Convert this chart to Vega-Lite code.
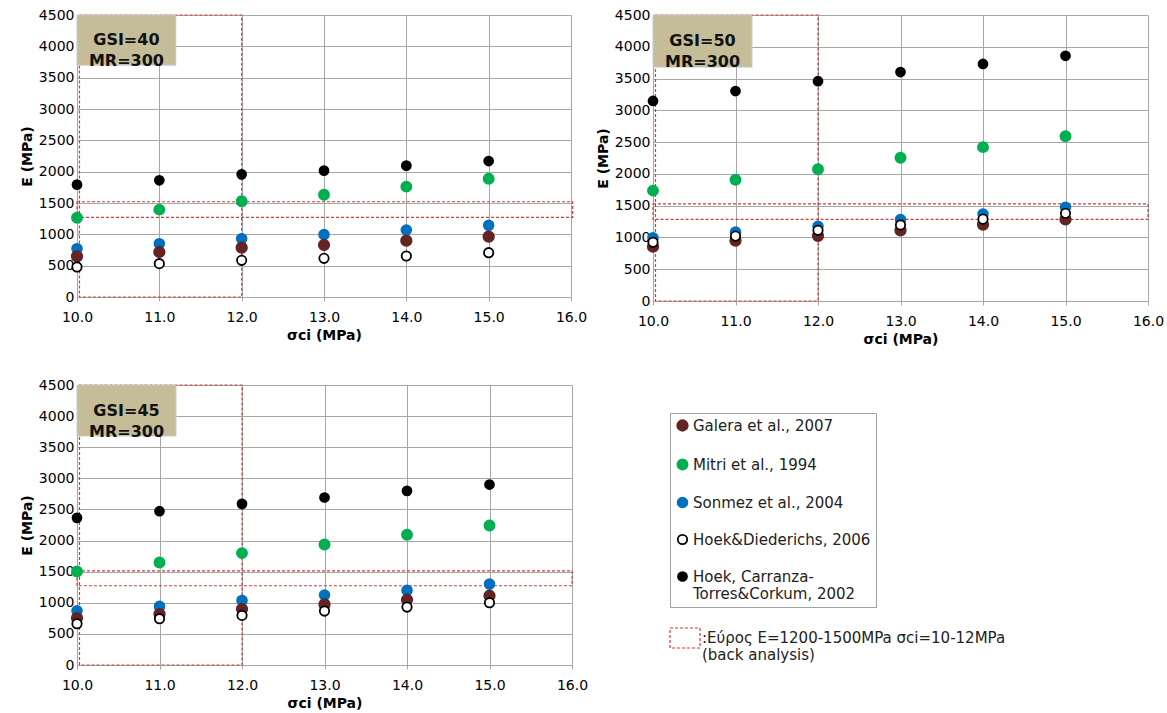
{
  "$schema": "https://vega.github.io/schema/vega-lite/v6.json",
  "background": "white",
  "padding": {"left": 20, "top": 8, "right": 5, "bottom": 5},
  "config": {
    "font": "DejaVu Sans",
    "view": {"stroke": null},
    "axis": {
      "gridColor": "#a6a6a6", "gridWidth": 1, "domainColor": "#a6a6a6", "tickColor": "#a6a6a6",
      "tickSize": 4, "labelFont": "DejaVu Sans", "labelFontSize": 14, "labelColor": "#000000",
      "titleFont": "DejaVu Sans", "titleFontSize": 14, "titleFontWeight": "bold", "titleColor": "#000000",
      "labelPadding": 3, "labelFlush": false, "labelOverlap": false
    },
    "axisX": {"titlePadding": 4, "labelPadding": 9},
    "axisY": {"titlePadding": 4, "ticks": false}
  },
  "resolve": {"legend": {"strokeDash": "independent"}},
  "datasets": {
    "pts": [
      {"panel": "p40", "series": "Hoek, Carranza-Torres&Corkum, 2002", "sigma": 10, "E": 1793},
      {"panel": "p40", "series": "Hoek, Carranza-Torres&Corkum, 2002", "sigma": 11, "E": 1862},
      {"panel": "p40", "series": "Hoek, Carranza-Torres&Corkum, 2002", "sigma": 12, "E": 1957},
      {"panel": "p40", "series": "Hoek, Carranza-Torres&Corkum, 2002", "sigma": 13, "E": 2016},
      {"panel": "p40", "series": "Hoek, Carranza-Torres&Corkum, 2002", "sigma": 14, "E": 2096},
      {"panel": "p40", "series": "Hoek, Carranza-Torres&Corkum, 2002", "sigma": 15, "E": 2170},
      {"panel": "p40", "series": "Mitri et al., 1994", "sigma": 10, "E": 1266},
      {"panel": "p40", "series": "Mitri et al., 1994", "sigma": 11, "E": 1394},
      {"panel": "p40", "series": "Mitri et al., 1994", "sigma": 12, "E": 1527},
      {"panel": "p40", "series": "Mitri et al., 1994", "sigma": 13, "E": 1633},
      {"panel": "p40", "series": "Mitri et al., 1994", "sigma": 14, "E": 1761},
      {"panel": "p40", "series": "Mitri et al., 1994", "sigma": 15, "E": 1888},
      {"panel": "p40", "series": "Sonmez et al., 2004", "sigma": 10, "E": 771},
      {"panel": "p40", "series": "Sonmez et al., 2004", "sigma": 11, "E": 851},
      {"panel": "p40", "series": "Sonmez et al., 2004", "sigma": 12, "E": 931},
      {"panel": "p40", "series": "Sonmez et al., 2004", "sigma": 13, "E": 995},
      {"panel": "p40", "series": "Sonmez et al., 2004", "sigma": 14, "E": 1069},
      {"panel": "p40", "series": "Sonmez et al., 2004", "sigma": 15, "E": 1144},
      {"panel": "p40", "series": "Galera et al., 2007", "sigma": 10, "E": 649},
      {"panel": "p40", "series": "Galera et al., 2007", "sigma": 11, "E": 718},
      {"panel": "p40", "series": "Galera et al., 2007", "sigma": 12, "E": 787},
      {"panel": "p40", "series": "Galera et al., 2007", "sigma": 13, "E": 830},
      {"panel": "p40", "series": "Galera et al., 2007", "sigma": 14, "E": 899},
      {"panel": "p40", "series": "Galera et al., 2007", "sigma": 15, "E": 963},
      {"panel": "p40", "series": "Hoek&Diederichs, 2006", "sigma": 10, "E": 479},
      {"panel": "p40", "series": "Hoek&Diederichs, 2006", "sigma": 11, "E": 532},
      {"panel": "p40", "series": "Hoek&Diederichs, 2006", "sigma": 12, "E": 585},
      {"panel": "p40", "series": "Hoek&Diederichs, 2006", "sigma": 13, "E": 617},
      {"panel": "p40", "series": "Hoek&Diederichs, 2006", "sigma": 14, "E": 654},
      {"panel": "p40", "series": "Hoek&Diederichs, 2006", "sigma": 15, "E": 707},

      {"panel": "p50", "series": "Hoek, Carranza-Torres&Corkum, 2002", "sigma": 10, "E": 3148},
      {"panel": "p50", "series": "Hoek, Carranza-Torres&Corkum, 2002", "sigma": 11, "E": 3303},
      {"panel": "p50", "series": "Hoek, Carranza-Torres&Corkum, 2002", "sigma": 12, "E": 3458},
      {"panel": "p50", "series": "Hoek, Carranza-Torres&Corkum, 2002", "sigma": 13, "E": 3602},
      {"panel": "p50", "series": "Hoek, Carranza-Torres&Corkum, 2002", "sigma": 14, "E": 3730},
      {"panel": "p50", "series": "Hoek, Carranza-Torres&Corkum, 2002", "sigma": 15, "E": 3858},
      {"panel": "p50", "series": "Mitri et al., 1994", "sigma": 10, "E": 1737},
      {"panel": "p50", "series": "Mitri et al., 1994", "sigma": 11, "E": 1908},
      {"panel": "p50", "series": "Mitri et al., 1994", "sigma": 12, "E": 2073},
      {"panel": "p50", "series": "Mitri et al., 1994", "sigma": 13, "E": 2255},
      {"panel": "p50", "series": "Mitri et al., 1994", "sigma": 14, "E": 2421},
      {"panel": "p50", "series": "Mitri et al., 1994", "sigma": 15, "E": 2592},
      {"panel": "p50", "series": "Sonmez et al., 2004", "sigma": 10, "E": 994},
      {"panel": "p50", "series": "Sonmez et al., 2004", "sigma": 11, "E": 1085},
      {"panel": "p50", "series": "Sonmez et al., 2004", "sigma": 12, "E": 1176},
      {"panel": "p50", "series": "Sonmez et al., 2004", "sigma": 13, "E": 1283},
      {"panel": "p50", "series": "Sonmez et al., 2004", "sigma": 14, "E": 1368},
      {"panel": "p50", "series": "Sonmez et al., 2004", "sigma": 15, "E": 1475},
      {"panel": "p50", "series": "Galera et al., 2007", "sigma": 10, "E": 855},
      {"panel": "p50", "series": "Galera et al., 2007", "sigma": 11, "E": 951},
      {"panel": "p50", "series": "Galera et al., 2007", "sigma": 12, "E": 1026},
      {"panel": "p50", "series": "Galera et al., 2007", "sigma": 13, "E": 1112},
      {"panel": "p50", "series": "Galera et al., 2007", "sigma": 14, "E": 1202},
      {"panel": "p50", "series": "Galera et al., 2007", "sigma": 15, "E": 1283},
      {"panel": "p50", "series": "Hoek&Diederichs, 2006", "sigma": 10, "E": 925},
      {"panel": "p50", "series": "Hoek&Diederichs, 2006", "sigma": 11, "E": 1021},
      {"panel": "p50", "series": "Hoek&Diederichs, 2006", "sigma": 12, "E": 1112},
      {"panel": "p50", "series": "Hoek&Diederichs, 2006", "sigma": 13, "E": 1197},
      {"panel": "p50", "series": "Hoek&Diederichs, 2006", "sigma": 14, "E": 1288},
      {"panel": "p50", "series": "Hoek&Diederichs, 2006", "sigma": 15, "E": 1379},

      {"panel": "p45", "series": "Hoek, Carranza-Torres&Corkum, 2002", "sigma": 10, "E": 2365},
      {"panel": "p45", "series": "Hoek, Carranza-Torres&Corkum, 2002", "sigma": 11, "E": 2472},
      {"panel": "p45", "series": "Hoek, Carranza-Torres&Corkum, 2002", "sigma": 12, "E": 2590},
      {"panel": "p45", "series": "Hoek, Carranza-Torres&Corkum, 2002", "sigma": 13, "E": 2692},
      {"panel": "p45", "series": "Hoek, Carranza-Torres&Corkum, 2002", "sigma": 14, "E": 2799},
      {"panel": "p45", "series": "Hoek, Carranza-Torres&Corkum, 2002", "sigma": 15, "E": 2900},
      {"panel": "p45", "series": "Mitri et al., 1994", "sigma": 10, "E": 1504},
      {"panel": "p45", "series": "Mitri et al., 1994", "sigma": 11, "E": 1648},
      {"panel": "p45", "series": "Mitri et al., 1994", "sigma": 12, "E": 1798},
      {"panel": "p45", "series": "Mitri et al., 1994", "sigma": 13, "E": 1937},
      {"panel": "p45", "series": "Mitri et al., 1994", "sigma": 14, "E": 2092},
      {"panel": "p45", "series": "Mitri et al., 1994", "sigma": 15, "E": 2242},
      {"panel": "p45", "series": "Sonmez et al., 2004", "sigma": 10, "E": 872},
      {"panel": "p45", "series": "Sonmez et al., 2004", "sigma": 11, "E": 942},
      {"panel": "p45", "series": "Sonmez et al., 2004", "sigma": 12, "E": 1038},
      {"panel": "p45", "series": "Sonmez et al., 2004", "sigma": 13, "E": 1124},
      {"panel": "p45", "series": "Sonmez et al., 2004", "sigma": 14, "E": 1199},
      {"panel": "p45", "series": "Sonmez et al., 2004", "sigma": 15, "E": 1300},
      {"panel": "p45", "series": "Galera et al., 2007", "sigma": 10, "E": 754},
      {"panel": "p45", "series": "Galera et al., 2007", "sigma": 11, "E": 819},
      {"panel": "p45", "series": "Galera et al., 2007", "sigma": 12, "E": 899},
      {"panel": "p45", "series": "Galera et al., 2007", "sigma": 13, "E": 974},
      {"panel": "p45", "series": "Galera et al., 2007", "sigma": 14, "E": 1049},
      {"panel": "p45", "series": "Galera et al., 2007", "sigma": 15, "E": 1113},
      {"panel": "p45", "series": "Hoek&Diederichs, 2006", "sigma": 10, "E": 663},
      {"panel": "p45", "series": "Hoek&Diederichs, 2006", "sigma": 11, "E": 744},
      {"panel": "p45", "series": "Hoek&Diederichs, 2006", "sigma": 12, "E": 797},
      {"panel": "p45", "series": "Hoek&Diederichs, 2006", "sigma": 13, "E": 867},
      {"panel": "p45", "series": "Hoek&Diederichs, 2006", "sigma": 14, "E": 931},
      {"panel": "p45", "series": "Hoek&Diederichs, 2006", "sigma": 15, "E": 1001}
    ],
    "boxes": [
      {"panel": "p40", "note": "range", "x1": 10.03, "x2": 12, "y1": 0, "y2": 4500},
      {"panel": "p40", "note": "range", "x1": 10, "x2": 16.02, "y1": 1270, "y2": 1520},
      {"panel": "p50", "note": "range", "x1": 10.03, "x2": 12, "y1": 0, "y2": 4500},
      {"panel": "p50", "note": "range", "x1": 10, "x2": 16, "y1": 1283, "y2": 1528},
      {"panel": "p45", "note": "range", "x1": 10.03, "x2": 12, "y1": 0, "y2": 4500},
      {"panel": "p45", "note": "range", "x1": 10, "x2": 16, "y1": 1274, "y2": 1514}
    ],
    "labels": [
      {"panel": "p40", "label": "GSI=40\nMR=300", "x1": 10, "x2": 11.2, "y1": 3700, "y2": 4500, "xm": 10.6, "ym": 4100},
      {"panel": "p50", "label": "GSI=50\nMR=300", "x1": 10, "x2": 11.2, "y1": 3680, "y2": 4500, "xm": 10.6, "ym": 4090},
      {"panel": "p45", "label": "GSI=45\nMR=300", "x1": 10, "x2": 11.2, "y1": 3680, "y2": 4500, "xm": 10.6, "ym": 4090}
    ]
  },
  "spacing": 32,
  "vconcat": [
    {
      "spacing": 9,
      "hconcat": [
        {
          "width": 494, "height": 282,
          "layer": [
            {
              "data": {"name": "boxes"},
              "transform": [{"filter": "datum.panel === 'p40'"}],
              "mark": {"type": "rect", "fill": "transparent", "stroke": "#d43a3a", "strokeWidth": 1.2, "strokeDash": [3, 2]},
              "encoding": {
                "x": {"field": "x1", "type": "quantitative", "scale": {"domain": [10, 16], "nice": false, "zero": false, "padding": 0}, "title": "σci (MPa)", "axis": {"values": [10, 11, 12, 13, 14, 15, 16], "format": ".1f"}},
                "x2": {"field": "x2"},
                "y": {"field": "y1", "type": "quantitative", "scale": {"domain": [0, 4500], "nice": false, "padding": 0}, "title": "E (MPa)", "axis": {"values": [0, 500, 1000, 1500, 2000, 2500, 3000, 3500, 4000, 4500], "format": "d"}},
                "y2": {"field": "y2"}
              }
            },
            {
              "data": {"name": "pts"},
              "transform": [{"filter": "datum.panel === 'p40'"}],
              "mark": {"type": "point", "shape": "circle", "filled": true, "strokeWidth": 1.8, "opacity": 1},
              "encoding": {
                "x": {"field": "sigma", "type": "quantitative", "title": "σci (MPa)", "axis": {"values": [10, 11, 12, 13, 14, 15, 16], "format": ".1f"}},
                "y": {"field": "E", "type": "quantitative", "title": "E (MPa)", "axis": {"values": [0, 500, 1000, 1500, 2000, 2500, 3000, 3500, 4000, 4500], "format": "d"}},
                "fill": {"field": "series", "type": "nominal", "scale": {"domain": ["Galera et al., 2007", "Mitri et al., 1994", "Sonmez et al., 2004", "Hoek&Diederichs, 2006", "Hoek, Carranza-Torres&Corkum, 2002"], "range": ["#632523", "#00B050", "#0070C0", "#ffffff", "#000000"]}},
                "stroke": {"field": "series", "type": "nominal", "scale": {"domain": ["Galera et al., 2007", "Mitri et al., 1994", "Sonmez et al., 2004", "Hoek&Diederichs, 2006", "Hoek, Carranza-Torres&Corkum, 2002"], "range": ["#632523", "#00B050", "#0070C0", "#000000", "#000000"]}},
                "size": {"field": "series", "type": "nominal", "scale": {"domain": ["Galera et al., 2007", "Mitri et al., 1994", "Sonmez et al., 2004", "Hoek&Diederichs, 2006", "Hoek, Carranza-Torres&Corkum, 2002"], "range": [110, 80, 110, 38, 75]}}
              }
            },
            {
              "data": {"name": "labels"},
              "transform": [{"filter": "datum.panel === 'p40'"}],
              "mark": {"type": "rect", "fill": "#C4BD97", "stroke": "#c9c9c9", "strokeWidth": 1},
              "encoding": {
                "x": {"field": "x1", "type": "quantitative", "title": "σci (MPa)", "axis": {"values": [10, 11, 12, 13, 14, 15, 16], "format": ".1f"}},
                "x2": {"field": "x2"},
                "y": {"field": "y1", "type": "quantitative", "title": "E (MPa)", "axis": {"values": [0, 500, 1000, 1500, 2000, 2500, 3000, 3500, 4000, 4500], "format": "d"}},
                "y2": {"field": "y2"}
              }
            },
            {
              "data": {"name": "labels"},
              "transform": [{"filter": "datum.panel === 'p40'"}],
              "mark": {"type": "text", "fontSize": 16, "fontWeight": "bold", "lineBreak": "\n", "lineHeight": 21, "color": "#111111", "baseline": "middle"},
              "encoding": {
                "x": {"field": "xm", "type": "quantitative", "title": "σci (MPa)", "axis": {"values": [10, 11, 12, 13, 14, 15, 16], "format": ".1f"}},
                "y": {"field": "ym", "type": "quantitative", "title": "E (MPa)", "axis": {"values": [0, 500, 1000, 1500, 2000, 2500, 3000, 3500, 4000, 4500], "format": "d"}},
                "text": {"field": "label"}
              }
            }
          ]
        },
        {
          "width": 495, "height": 286,
          "layer": [
            {
              "data": {"name": "boxes"},
              "transform": [{"filter": "datum.panel === 'p50'"}],
              "mark": {"type": "rect", "fill": "transparent", "stroke": "#d43a3a", "strokeWidth": 1.2, "strokeDash": [3, 2]},
              "encoding": {
                "x": {"field": "x1", "type": "quantitative", "scale": {"domain": [10, 16], "nice": false, "zero": false, "padding": 0}, "title": "σci (MPa)", "axis": {"values": [10, 11, 12, 13, 14, 15, 16], "format": ".1f"}},
                "x2": {"field": "x2"},
                "y": {"field": "y1", "type": "quantitative", "scale": {"domain": [0, 4500], "nice": false, "padding": 0}, "title": "E (MPa)", "axis": {"values": [0, 500, 1000, 1500, 2000, 2500, 3000, 3500, 4000, 4500], "format": "d"}},
                "y2": {"field": "y2"}
              }
            },
            {
              "data": {"name": "pts"},
              "transform": [{"filter": "datum.panel === 'p50'"}],
              "mark": {"type": "point", "shape": "circle", "filled": true, "strokeWidth": 1.8, "opacity": 1},
              "encoding": {
                "x": {"field": "sigma", "type": "quantitative", "title": "σci (MPa)", "axis": {"values": [10, 11, 12, 13, 14, 15, 16], "format": ".1f"}},
                "y": {"field": "E", "type": "quantitative", "title": "E (MPa)", "axis": {"values": [0, 500, 1000, 1500, 2000, 2500, 3000, 3500, 4000, 4500], "format": "d"}},
                "fill": {"field": "series", "type": "nominal", "scale": {"domain": ["Galera et al., 2007", "Mitri et al., 1994", "Sonmez et al., 2004", "Hoek&Diederichs, 2006", "Hoek, Carranza-Torres&Corkum, 2002"], "range": ["#632523", "#00B050", "#0070C0", "#ffffff", "#000000"]}},
                "stroke": {"field": "series", "type": "nominal", "scale": {"domain": ["Galera et al., 2007", "Mitri et al., 1994", "Sonmez et al., 2004", "Hoek&Diederichs, 2006", "Hoek, Carranza-Torres&Corkum, 2002"], "range": ["#632523", "#00B050", "#0070C0", "#000000", "#000000"]}},
                "size": {"field": "series", "type": "nominal", "scale": {"domain": ["Galera et al., 2007", "Mitri et al., 1994", "Sonmez et al., 2004", "Hoek&Diederichs, 2006", "Hoek, Carranza-Torres&Corkum, 2002"], "range": [110, 80, 110, 38, 75]}}
              }
            },
            {
              "data": {"name": "labels"},
              "transform": [{"filter": "datum.panel === 'p50'"}],
              "mark": {"type": "rect", "fill": "#C4BD97", "stroke": "#c9c9c9", "strokeWidth": 1},
              "encoding": {
                "x": {"field": "x1", "type": "quantitative", "title": "σci (MPa)", "axis": {"values": [10, 11, 12, 13, 14, 15, 16], "format": ".1f"}},
                "x2": {"field": "x2"},
                "y": {"field": "y1", "type": "quantitative", "title": "E (MPa)", "axis": {"values": [0, 500, 1000, 1500, 2000, 2500, 3000, 3500, 4000, 4500], "format": "d"}},
                "y2": {"field": "y2"}
              }
            },
            {
              "data": {"name": "labels"},
              "transform": [{"filter": "datum.panel === 'p50'"}],
              "mark": {"type": "text", "fontSize": 16, "fontWeight": "bold", "lineBreak": "\n", "lineHeight": 21, "color": "#111111", "baseline": "middle"},
              "encoding": {
                "x": {"field": "xm", "type": "quantitative", "title": "σci (MPa)", "axis": {"values": [10, 11, 12, 13, 14, 15, 16], "format": ".1f"}},
                "y": {"field": "ym", "type": "quantitative", "title": "E (MPa)", "axis": {"values": [0, 500, 1000, 1500, 2000, 2500, 3000, 3500, 4000, 4500], "format": "d"}},
                "text": {"field": "label"}
              }
            }
          ]
        }
      ]
    },
    {
      "width": 495, "height": 280,
      "layer": [
        {
          "data": {"name": "boxes"},
          "transform": [{"filter": "datum.panel === 'p45'"}],
          "mark": {"type": "bar", "fill": "transparent", "stroke": "#d43a3a", "strokeWidth": 1.2, "strokeDash": [3, 2]},
          "encoding": {
            "x": {"field": "x1", "type": "quantitative", "scale": {"domain": [10, 16], "nice": false, "zero": false, "padding": 0}, "title": "σci (MPa)", "axis": {"values": [10, 11, 12, 13, 14, 15, 16], "format": ".1f"}},
            "x2": {"field": "x2"},
            "y": {"field": "y1", "type": "quantitative", "scale": {"domain": [0, 4500], "nice": false, "padding": 0}, "title": "E (MPa)", "axis": {"values": [0, 500, 1000, 1500, 2000, 2500, 3000, 3500, 4000, 4500], "format": "d"}},
            "y2": {"field": "y2"},
            "strokeDash": {"field": "note", "type": "nominal", "scale": {"range": [[3, 2], [3, 2]]},
              "legend": {"orient": "none", "legendX": 597, "legendY": 242, "title": null, "symbolType": "M-1.5,-1H1.5V1H-1.5Z", "symbolSize": 400, "symbolStrokeColor": "#e03030", "symbolFillColor": "transparent", "symbolStrokeWidth": 1.2, "symbolDash": [3, 2], "labelFont": "DejaVu Sans", "labelFontSize": 15, "labelColor": "#222222", "labelLimit": 600, "labelOffset": 6, "labelExpr": "[':Εύρος E=1200-1500MPa σci=10-12MPa', '(back analysis)']"}}
          }
        },
        {
          "data": {"name": "pts"},
          "transform": [{"filter": "datum.panel === 'p45'"}],
          "mark": {"type": "point", "shape": "circle", "filled": true, "strokeWidth": 1.8, "opacity": 1},
          "encoding": {
            "x": {"field": "sigma", "type": "quantitative", "title": "σci (MPa)", "axis": {"values": [10, 11, 12, 13, 14, 15, 16], "format": ".1f"}},
            "y": {"field": "E", "type": "quantitative", "title": "E (MPa)", "axis": {"values": [0, 500, 1000, 1500, 2000, 2500, 3000, 3500, 4000, 4500], "format": "d"}},
            "fill": {"field": "series", "type": "nominal", "scale": {"domain": ["Galera et al., 2007", "Mitri et al., 1994", "Sonmez et al., 2004", "Hoek&Diederichs, 2006", "Hoek, Carranza-Torres&Corkum, 2002"], "range": ["#632523", "#00B050", "#0070C0", "#ffffff", "#000000"]},
              "legend": {"orient": "none", "legendX": 593, "legendY": 398, "title": null, "strokeColor": "#a0a0a0", "padding": 5, "rowPadding": 20, "symbolStrokeWidth": 1.8, "labelFont": "DejaVu Sans", "labelFontSize": 15, "labelColor": "#222222", "labelLimit": 400, "labelOffset": 3, "labelExpr": "datum.label == 'Hoek, Carranza-Torres&Corkum, 2002' ? ['Hoek, Carranza-', 'Torres&Corkum, 2002'] : datum.label"}},
            "stroke": {"field": "series", "type": "nominal", "scale": {"domain": ["Galera et al., 2007", "Mitri et al., 1994", "Sonmez et al., 2004", "Hoek&Diederichs, 2006", "Hoek, Carranza-Torres&Corkum, 2002"], "range": ["#632523", "#00B050", "#0070C0", "#000000", "#000000"]},
              "legend": {"orient": "none", "legendX": 593, "legendY": 398, "title": null, "strokeColor": "#a0a0a0", "padding": 5, "rowPadding": 20, "symbolStrokeWidth": 1.8, "labelFont": "DejaVu Sans", "labelFontSize": 15, "labelColor": "#222222", "labelLimit": 400, "labelOffset": 3, "labelExpr": "datum.label == 'Hoek, Carranza-Torres&Corkum, 2002' ? ['Hoek, Carranza-', 'Torres&Corkum, 2002'] : datum.label"}},
            "size": {"field": "series", "type": "nominal", "scale": {"domain": ["Galera et al., 2007", "Mitri et al., 1994", "Sonmez et al., 2004", "Hoek&Diederichs, 2006", "Hoek, Carranza-Torres&Corkum, 2002"], "range": [110, 80, 110, 38, 75]},
              "legend": {"orient": "none", "legendX": 593, "legendY": 398, "title": null, "strokeColor": "#a0a0a0", "padding": 5, "rowPadding": 20, "symbolStrokeWidth": 1.8, "labelFont": "DejaVu Sans", "labelFontSize": 15, "labelColor": "#222222", "labelLimit": 400, "labelOffset": 3, "labelExpr": "datum.label == 'Hoek, Carranza-Torres&Corkum, 2002' ? ['Hoek, Carranza-', 'Torres&Corkum, 2002'] : datum.label"}}
          }
        },
        {
          "data": {"name": "labels"},
          "transform": [{"filter": "datum.panel === 'p45'"}],
          "mark": {"type": "rect", "fill": "#C4BD97", "stroke": "#c9c9c9", "strokeWidth": 1},
          "encoding": {
            "x": {"field": "x1", "type": "quantitative", "title": "σci (MPa)", "axis": {"values": [10, 11, 12, 13, 14, 15, 16], "format": ".1f"}},
            "x2": {"field": "x2"},
            "y": {"field": "y1", "type": "quantitative", "title": "E (MPa)", "axis": {"values": [0, 500, 1000, 1500, 2000, 2500, 3000, 3500, 4000, 4500], "format": "d"}},
            "y2": {"field": "y2"}
          }
        },
        {
          "data": {"name": "labels"},
          "transform": [{"filter": "datum.panel === 'p45'"}],
          "mark": {"type": "text", "fontSize": 16, "fontWeight": "bold", "lineBreak": "\n", "lineHeight": 21, "color": "#111111", "baseline": "middle"},
          "encoding": {
            "x": {"field": "xm", "type": "quantitative", "title": "σci (MPa)", "axis": {"values": [10, 11, 12, 13, 14, 15, 16], "format": ".1f"}},
            "y": {"field": "ym", "type": "quantitative", "title": "E (MPa)", "axis": {"values": [0, 500, 1000, 1500, 2000, 2500, 3000, 3500, 4000, 4500], "format": "d"}},
            "text": {"field": "label"}
          }
        }
      ]
    }
  ]
}
